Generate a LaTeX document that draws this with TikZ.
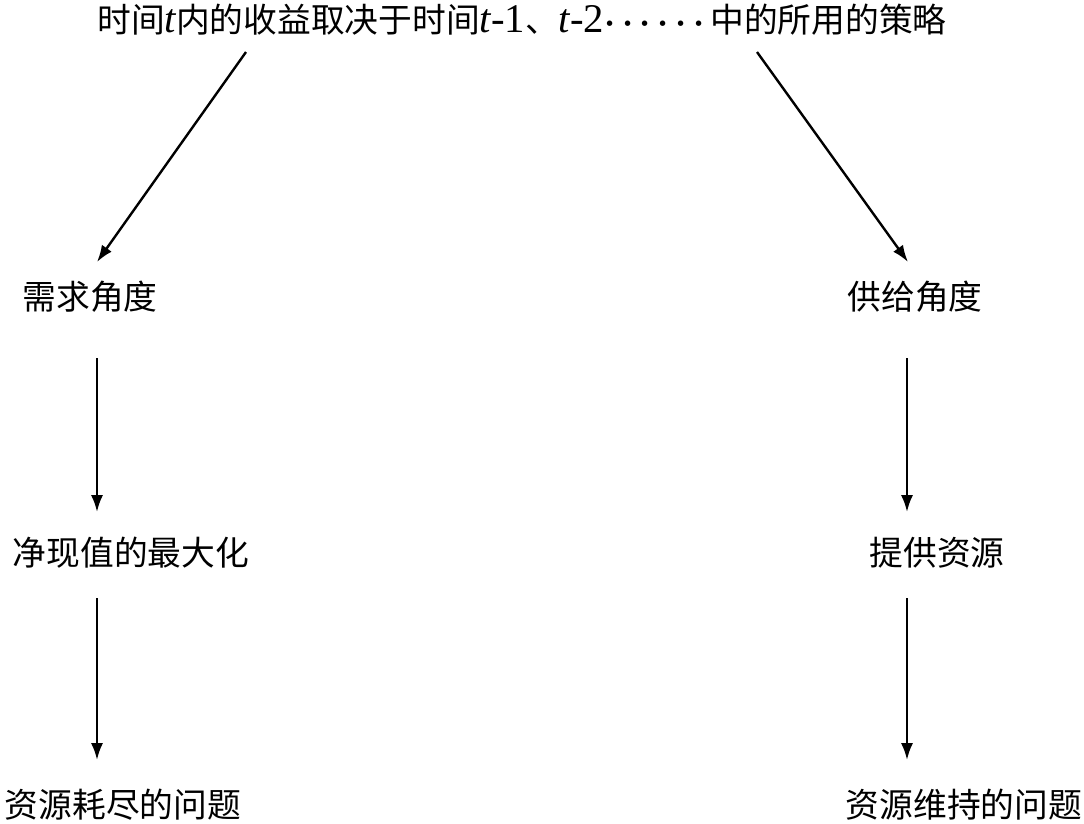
\documentclass[tikz,border=0pt]{standalone}
\usepackage{fontspec}
\setmainfont{Liberation Serif}
\newfontfamily\cjk{Noto Sans CJK SC}
\usetikzlibrary{arrows.meta,positioning}
\tikzset{lbl/.style={inner sep=0pt,font=\fontsize{24}{28}\selectfont\cjk},
  flow/.style={-{Latex[length=0.42cm,width=0.3cm]},line width=1.7pt}}
\newcommand{\tv}{{\fontsize{29}{30}\selectfont\rmfamily\itshape t}}
\newcommand{\lt}[1]{{\fontsize{29}{30}\selectfont\rmfamily #1}}

\begin{document}
\begin{tikzpicture}[x=0.025cm,y=-0.025cm]
\useasboundingbox (0,0) rectangle (1084,823);
\node[lbl] (top) at (522,20) {时间\tv 内的收益取决于时间\tv\lt{-1}、\tv\lt{-2}{\boldmath$\cdots\cdots$}\,中的所用的策略};
\node[lbl] (need) at (90,297) {需求角度};
\node[lbl] (supply) at (915,297) {供给角度};
\node[lbl] (npv) at (131,553) {净现值的最大化};
\node[lbl] (give) at (937,553) {提供资源};
\node[lbl] (deplete) at (123,805) {资源耗尽的问题};
\node[lbl] (keep) at (964,805) {资源维持的问题};
% arrow ends
\coordinate (t1) at (246,52);
\coordinate (t2) at (757,52);
\coordinate (l0) at (97,262);
\coordinate (r0) at (908,262);
\coordinate (l1) at (97,358);
\coordinate (l2) at (97,512);
\coordinate (l3) at (97,598);
\coordinate (l4) at (97,760);
\coordinate (r1) at (907,358);
\coordinate (r2) at (907,512);
\coordinate (r3) at (907,598);
\coordinate (r4) at (907,760);
\draw[flow] (t1) -- (l0);
\draw[flow] (t2) -- (r0);
\draw[flow] (l1) -- (l2);
\draw[flow] (l3) -- (l4);
\draw[flow] (r1) -- (r2);
\draw[flow] (r3) -- (r4);
\end{tikzpicture}
\end{document}
